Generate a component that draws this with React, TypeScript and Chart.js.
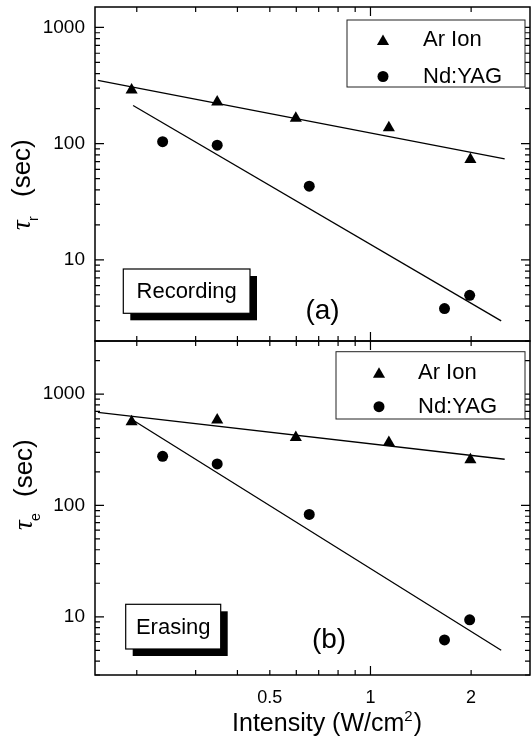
import React, { useEffect, useRef } from 'react';
import { Chart, registerables } from 'chart.js';

Chart.register(...registerables);

const SANS = '"Liberation Sans", Arial, Helvetica, sans-serif';
const SERIF = '"Liberation Serif", "Times New Roman", serif';

// ---------------- data ----------------
const arIntensity = [0.193, 0.348, 0.598, 1.135, 1.99];
const ndIntensity = [0.239, 0.348, 0.656, 1.665, 1.98];

const recordingAr = [290, 228, 165, 137, 73];
const recordingNd = [104, 97, 43, 3.8, 4.95];
const erasingAr = [565, 585, 408, 368, 257];
const erasingNd = [276, 236, 83, 6.2, 9.4];

const recordingArFitX = [0.153, 2.52];
const recordingArFitY = [351, 74];
const recordingNdFitX = [0.195, 2.46];
const recordingNdFitY = [213, 2.98];
const erasingArFitX = [0.153, 2.52];
const erasingArFitY = [685, 260];
const erasingNdFitX = [0.194, 2.46];
const erasingNdFitY = [589, 5.0];

const xRange = [0.15, 3];
const recordingYRange = [2, 1500];
const erasingYRange = [3, 3000];

const xTickLabels = [0.5, 1, 2];
const yTickLabels = [10, 100, 1000];
const xTickMarks = [0.2, 0.3, 0.4, 0.5, 0.6, 0.7, 0.8, 0.9, 1, 2, 3];
const xMajorTicks = [1];
const yMantissas = [1, 2, 3, 4, 5, 6, 7, 8, 9];
const yDecades = [1, 10, 100, 1000];
const legendLabels = ['Ar Ion', 'Nd:YAG'];

const W = 531;
const H = 743;

type Spec = {
  yRange: number[];
  ar: number[];
  nd: number[];
  arFit: [number[], number[]];
  ndFit: [number[], number[]];
  padding: { top: number; bottom: number; left: number; right: number };
  showX: boolean;
  legend: { x: number; y: number; w: number; h: number; mx: number; tx: number; rows: number[] };
  box: { x: number; y: number; w: number; h: number; text: string };
  letter: { x: number; y: number; text: string };
  title: { x: number; y: number; sub: string };
};

const pts = (xs: number[], ys: number[]) => xs.map((x, i) => ({ x, y: ys[i] }));

function drawTriangle(ctx: CanvasRenderingContext2D, cx: number, cy: number, r: number) {
  ctx.beginPath();
  ctx.moveTo(cx, cy - r);
  ctx.lineTo(cx + r * Math.sin((2 * Math.PI) / 3), cy + r / 2);
  ctx.lineTo(cx - r * Math.sin((2 * Math.PI) / 3), cy + r / 2);
  ctx.closePath();
  ctx.fill();
}

function zeroPad(s: any) {
  s.paddingTop = 0;
  s.paddingBottom = 0;
  s.paddingLeft = 0;
  s.paddingRight = 0;
}

function makePlugin(spec: Spec) {
  return {
    id: 'panelDecor',
    afterDraw(chart: any) {
      const ctx: CanvasRenderingContext2D = chart.ctx;
      const a = chart.chartArea;
      const xs = chart.scales.x;
      const ys = chart.scales.y;
      ctx.save();
      ctx.strokeStyle = '#000';
      ctx.fillStyle = '#000';

      // frame
      ctx.lineWidth = 1.5;
      ctx.strokeRect(a.left, a.top, a.right - a.left, a.bottom - a.top);

      // x ticks (inward, top and bottom)
      ctx.lineWidth = 1.2;
      ctx.beginPath();
      for (const v of xTickMarks) {
        const px = xs.getPixelForValue(v);
        if (px <= a.left + 1 || px >= a.right - 1) continue;
        const len = xMajorTicks.includes(v) ? 9 : 5;
        ctx.moveTo(px, a.top);
        ctx.lineTo(px, a.top + len);
        ctx.moveTo(px, a.bottom);
        ctx.lineTo(px, a.bottom - len);
      }
      // y ticks (inward, left and right)
      for (const d of yDecades) {
        for (const m of yMantissas) {
          const v = d * m;
          if (v < spec.yRange[0] || v > spec.yRange[1]) continue;
          const py = ys.getPixelForValue(v);
          const len = m === 1 ? 9 : 5;
          ctx.moveTo(a.left, py);
          ctx.lineTo(a.left + len, py);
          ctx.moveTo(a.right, py);
          ctx.lineTo(a.right - len, py);
        }
      }
      ctx.stroke();

      // legend
      const L = spec.legend;
      const lx = a.left + L.x;
      const ly = a.top + L.y;
      ctx.fillStyle = '#fff';
      ctx.fillRect(lx, ly, L.w, L.h);
      ctx.lineWidth = 1;
      ctx.strokeStyle = '#222';
      ctx.strokeRect(lx, ly, L.w, L.h);
      ctx.fillStyle = '#000';
      drawTriangle(ctx, lx + L.mx, ly + L.rows[0] + 1.5, 7);
      ctx.beginPath();
      ctx.arc(lx + L.mx, ly + L.rows[1], 5.5, 0, Math.PI * 2);
      ctx.fill();
      ctx.font = `22px ${SANS}`;
      ctx.textAlign = 'left';
      ctx.textBaseline = 'middle';
      ctx.fillText(legendLabels[0], lx + L.tx, ly + L.rows[0]);
      ctx.fillText(legendLabels[1], lx + L.tx, ly + L.rows[1]);

      // annotation box with shadow
      const B = spec.box;
      const bx = a.left + B.x;
      const by = a.top + B.y;
      ctx.fillStyle = '#000';
      ctx.fillRect(bx + 7, by + 7, B.w, B.h);
      ctx.fillStyle = '#fff';
      ctx.fillRect(bx, by, B.w, B.h);
      ctx.strokeStyle = '#000';
      ctx.lineWidth = 1.2;
      ctx.strokeRect(bx, by, B.w, B.h);
      ctx.fillStyle = '#000';
      ctx.font = `22px ${SANS}`;
      ctx.textAlign = 'center';
      ctx.textBaseline = 'middle';
      ctx.fillText(B.text, bx + B.w / 2, by + B.h / 2 + 1);

      // panel letter
      ctx.font = `28px ${SANS}`;
      ctx.fillText(spec.letter.text, a.left + spec.letter.x, a.top + spec.letter.y);

      // y title (rotated)
      ctx.save();
      ctx.translate(spec.title.x, a.top + spec.title.y);
      ctx.rotate(-Math.PI / 2);
      ctx.textAlign = 'left';
      ctx.textBaseline = 'alphabetic';
      ctx.font = `italic 27px ${SERIF}`;
      ctx.fillText('τ', 0, 0);
      ctx.font = `14px ${SANS}`;
      ctx.fillText(spec.title.sub, 9, 8);
      ctx.font = `26px ${SANS}`;
      ctx.fillText('(sec)', 33, 0);
      ctx.restore();

      // x title
      if (spec.showX) {
        const base = 731;
        const cx = a.left + 232;
        ctx.textAlign = 'left';
        ctx.textBaseline = 'alphabetic';
        ctx.font = `25px ${SANS}`;
        const t1 = 'Intensity (W/cm';
        const w1 = ctx.measureText(t1).width;
        const w3 = ctx.measureText(')').width;
        ctx.font = `15px ${SANS}`;
        const w2 = ctx.measureText('2').width;
        const total = w1 + w2 + w3 + 1;
        const x0 = cx - total / 2;
        ctx.font = `25px ${SANS}`;
        ctx.fillText(t1, x0, base);
        ctx.font = `15px ${SANS}`;
        ctx.fillText('2', x0 + w1, base - 10);
        ctx.font = `25px ${SANS}`;
        ctx.fillText(')', x0 + w1 + w2 + 1, base);
      }
      ctx.restore();
    },
  };
}

function makeConfig(spec: Spec): any {
  return {
    type: 'scatter',
    data: {
      datasets: [
        {
          label: legendLabels[0],
          data: pts(arIntensity, spec.ar),
          showLine: false,
          pointStyle: 'triangle',
          pointRadius: 7,
          backgroundColor: '#000',
          borderColor: '#000',
          borderWidth: 0,
        },
        {
          label: legendLabels[1],
          data: pts(ndIntensity, spec.nd),
          showLine: false,
          pointStyle: 'circle',
          pointRadius: 5.5,
          backgroundColor: '#000',
          borderColor: '#000',
          borderWidth: 0,
        },
        {
          label: 'Ar fit',
          data: pts(spec.arFit[0], spec.arFit[1]),
          showLine: true,
          pointRadius: 0,
          borderColor: '#000',
          borderWidth: 1.3,
        },
        {
          label: 'Nd fit',
          data: pts(spec.ndFit[0], spec.ndFit[1]),
          showLine: true,
          pointRadius: 0,
          borderColor: '#000',
          borderWidth: 1.3,
        },
      ],
    },
    options: {
      animation: false,
      responsive: false,
      events: [],
      layout: { padding: spec.padding, autoPadding: false },
      plugins: { legend: { display: false }, tooltip: { enabled: false } },
      scales: {
        x: {
          type: 'logarithmic',
          min: xRange[0],
          max: xRange[1],
          display: spec.showX,
          grid: { display: false, drawTicks: false },
          border: { display: false },
          afterBuildTicks: (s: any) => {
            s.ticks = xTickLabels.map((v) => ({ value: v }));
          },
          afterFit: (s: any) => {
            if (spec.showX) s.height = 68;
            zeroPad(s);
          },
          ticks: {
            autoSkip: false,
            maxRotation: 0,
            padding: 12,
            color: '#000',
            font: { family: SANS, size: 18 },
            callback: (v: any) => String(v),
          },
        },
        y: {
          type: 'logarithmic',
          min: spec.yRange[0],
          max: spec.yRange[1],
          grid: { display: false, drawTicks: false },
          border: { display: false },
          afterBuildTicks: (s: any) => {
            s.ticks = yTickLabels.map((v) => ({ value: v }));
          },
          afterFit: (s: any) => {
            s.width = 95;
            zeroPad(s);
          },
          ticks: {
            autoSkip: false,
            padding: 10,
            color: '#000',
            font: { family: SANS, size: 19 },
            callback: (v: any) => String(v),
          },
        },
      },
    },
    plugins: [makePlugin(spec)],
  };
}

const topSpec: Spec = {
  yRange: recordingYRange,
  ar: recordingAr,
  nd: recordingNd,
  arFit: [recordingArFitX, recordingArFitY],
  ndFit: [recordingNdFitX, recordingNdFitY],
  padding: { top: 7, bottom: 402, left: 0, right: 1 },
  showX: false,
  legend: { x: 252, y: 13, w: 178, h: 67, mx: 36, tx: 76, rows: [20, 56.5] },
  box: { x: 28.3, y: 262, w: 126.7, h: 44.3, text: 'Recording' },
  letter: { x: 227.5, y: 304.5, text: '(a)' },
  title: { x: 29.5, y: 223, sub: 'r' },
};

const bottomSpec: Spec = {
  yRange: erasingYRange,
  ar: erasingAr,
  nd: erasingNd,
  arFit: [erasingArFitX, erasingArFitY],
  ndFit: [erasingNdFitX, erasingNdFitY],
  padding: { top: 341, bottom: 0, left: 0, right: 1 },
  showX: true,
  legend: { x: 241, y: 10.7, w: 189, h: 67.3, mx: 43, tx: 82, rows: [21, 55] },
  box: { x: 30.7, y: 263.3, w: 95, h: 44.7, text: 'Erasing' },
  letter: { x: 234, y: 299.7, text: '(b)' },
  title: { x: 32, y: 189, sub: 'e' },
};

function Panel({ spec }: { spec: Spec }) {
  const ref = useRef<HTMLCanvasElement | null>(null);
  useEffect(() => {
    if (!ref.current) return;
    const chart = new Chart(ref.current, makeConfig(spec));
    return () => chart.destroy();
  }, [spec]);
  return (
    <canvas
      ref={ref}
      width={W}
      height={H}
      style={{ position: 'absolute', left: 0, top: 0, width: W, height: H }}
    />
  );
}

export default function App() {
  return (
    <div style={{ position: 'absolute', left: 0, top: 0, width: W, height: H, background: '#fff' }}>
      <Panel spec={topSpec} />
      <Panel spec={bottomSpec} />
    </div>
  );
}
